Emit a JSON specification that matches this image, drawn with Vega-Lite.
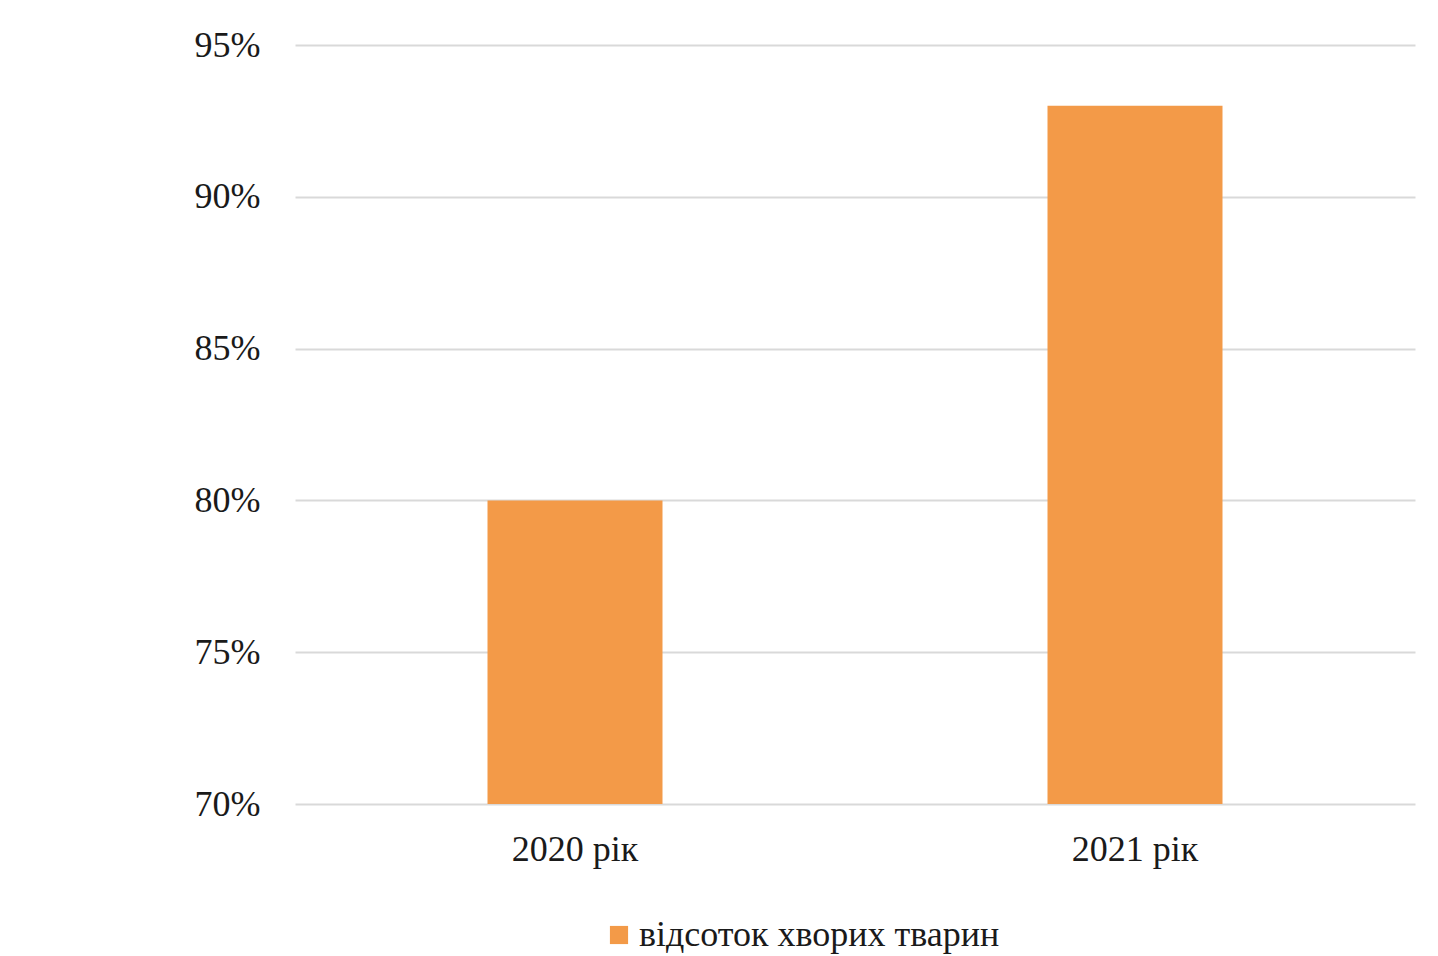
{
  "$schema": "https://vega.github.io/schema/vega-lite/v6.json",
  "width": 1120,
  "height": 759,
  "autosize": {"type": "none"},
  "padding": {"left": 295, "top": 45, "right": 23, "bottom": 152},
  "background": "#ffffff",
  "data": {
    "values": [
      {"year": "2020 рік", "share": 0.80, "series": "відсоток хворих тварин"},
      {"year": "2021 рік", "share": 0.93, "series": "відсоток хворих тварин"}
    ]
  },
  "mark": {"type": "bar", "clip": true},
  "encoding": {
    "x": {
      "field": "year",
      "type": "nominal",
      "sort": null,
      "title": null,
      "scale": {"paddingInner": 0.6875, "paddingOuter": 0.34375},
      "axis": {
        "labelAngle": 0,
        "labelFont": "Liberation Serif",
        "labelFontSize": 36,
        "labelColor": "#1a1a1a",
        "labelPadding": 28,
        "domain": false,
        "ticks": false,
        "grid": false
      }
    },
    "y": {
      "field": "share",
      "type": "quantitative",
      "title": null,
      "scale": {"domain": [0.70, 0.95], "nice": false, "zero": false},
      "axis": {
        "values": [0.70, 0.75, 0.80, 0.85, 0.90, 0.95],
        "format": ".0%",
        "labelFont": "Liberation Serif",
        "labelFontSize": 36,
        "labelColor": "#1a1a1a",
        "labelPadding": 35,
        "domain": false,
        "ticks": false,
        "grid": true,
        "gridColor": "#d9d9d9",
        "gridWidth": 2
      }
    },
    "color": {
      "field": "series",
      "type": "nominal",
      "scale": {"range": ["#f39a48"]},
      "legend": {
        "title": null,
        "orient": "none",
        "legendX": 306,
        "legendY": 872,
        "symbolType": "square",
        "symbolSize": 330,
        "symbolStrokeWidth": 0,
        "labelFont": "Liberation Serif",
        "labelFontSize": 36,
        "labelColor": "#1a1a1a",
        "labelOffset": 2,
        "labelLimit": 600
      }
    }
  },
  "config": {"view": {"stroke": null}}
}
